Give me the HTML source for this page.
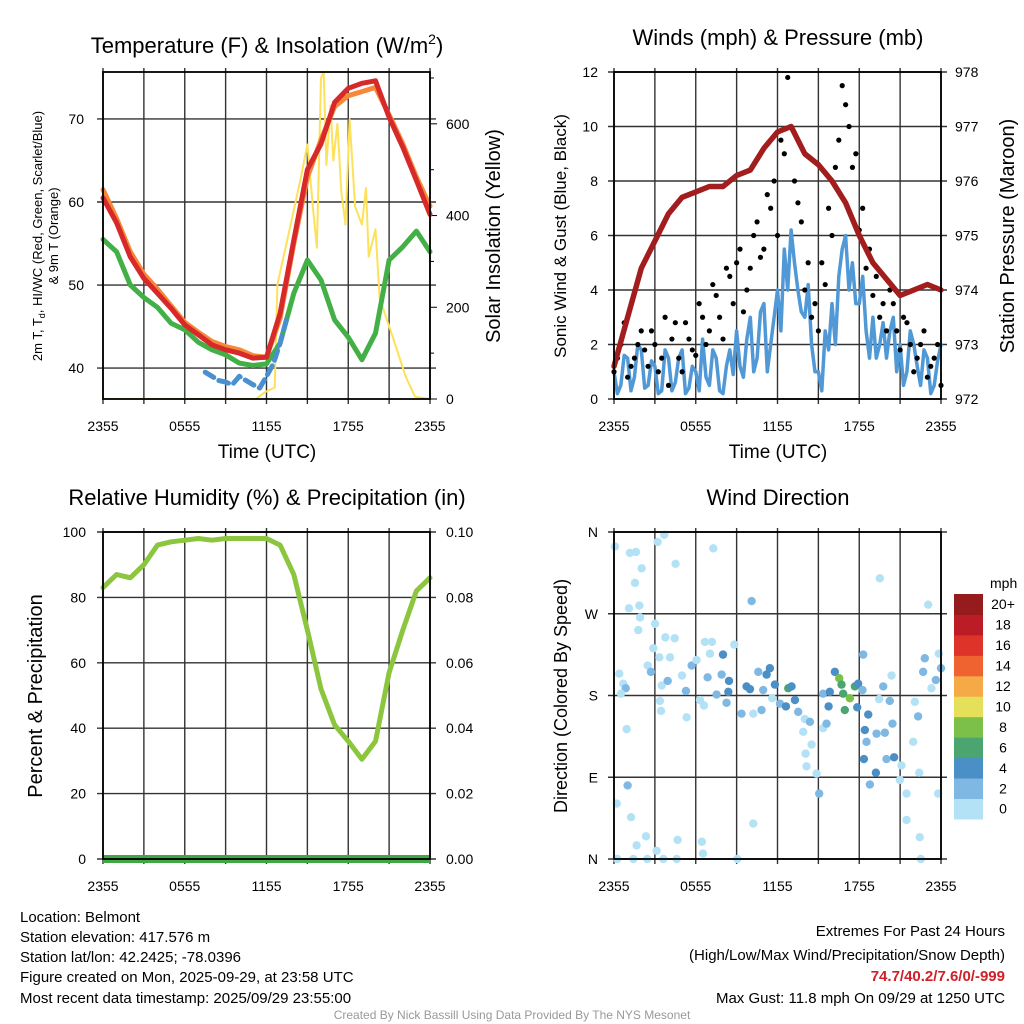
<!DOCTYPE html>
<html><head><meta charset="utf-8"><style>
html,body{margin:0;padding:0;background:#fff;}
svg{display:block;font-family:"Liberation Sans",Arial,sans-serif;}
</style></head><body>
<svg id="c" width="1024" height="1024" viewBox="0 0 1024 1024" xmlns="http://www.w3.org/2000/svg">
<g id="static">
<text x="267" y="53" font-size="22" text-anchor="middle">Temperature (F) &amp; Insolation (W/m<tspan dy="-9" font-size="14">2</tspan><tspan dy="9">)</tspan></text>
<text x="778" y="45" font-size="22" text-anchor="middle">Winds (mph) &amp; Pressure (mb)</text>
<text x="267" y="505" font-size="22" text-anchor="middle">Relative Humidity (%) &amp; Precipitation (in)</text>
<text x="778" y="505" font-size="22" text-anchor="middle">Wind Direction</text>
<text x="267" y="458" font-size="19" text-anchor="middle">Time (UTC)</text>
<text x="778" y="458" font-size="19" text-anchor="middle">Time (UTC)</text>
<text transform="translate(42,236) rotate(-90)" font-size="13" text-anchor="middle">2m T, T<tspan dy="3" font-size="9">d</tspan><tspan dy="-3">, HI/WC (Red, Green, Scarlet/Blue)</tspan></text>
<text transform="translate(58,236) rotate(-90)" font-size="13" text-anchor="middle">&amp; 9m T (Orange)</text>
<text transform="translate(500,236) rotate(-90)" font-size="20" text-anchor="middle">Solar Insolation (Yellow)</text>
<text transform="translate(566,236) rotate(-90)" font-size="17" text-anchor="middle">Sonic Wind &amp; Gust (Blue, Black)</text>
<text transform="translate(1014,236) rotate(-90)" font-size="20" text-anchor="middle">Station Pressure (Maroon)</text>
<text transform="translate(42,696) rotate(-90)" font-size="20" text-anchor="middle">Percent &amp; Precipitation</text>
<text transform="translate(567,696) rotate(-90)" font-size="18" text-anchor="middle">Direction (Colored By Speed)</text>
<g font-size="15">
<text x="20" y="922">Location: Belmont</text>
<text x="20" y="942">Station elevation: 417.576 m</text>
<text x="20" y="962">Station lat/lon: 42.2425; -78.0396</text>
<text x="20" y="982">Figure created on Mon, 2025-09-29, at 23:58 UTC</text>
<text x="20" y="1003">Most recent data timestamp: 2025/09/29 23:55:00</text>
</g>
<g font-size="15" text-anchor="end">
<text x="1005" y="936">Extremes For Past 24 Hours</text>
<text x="1005" y="960">(High/Low/Max Wind/Precipitation/Snow Depth)</text>
<text x="1005" y="981" fill="#d0202a" font-weight="bold">74.7/40.2/7.6/0/-999</text>
<text x="1005" y="1003">Max Gust: 11.8 mph On 09/29 at 1250 UTC</text>
</g>
<text x="512" y="1019" font-size="12" fill="#999" text-anchor="middle">Created By Nick Bassill Using Data Provided By The NYS Mesonet</text>
</g>
<g id="dyn"></g>
</svg>
<script>
// ---- Temperature panel data (hours since 2355 UTC) ----
const hours = [0,1,2,3,4,5,6,7,8,9,10,11,12,13,14,15,16,17,18,19,20,21,22,23,24];
const temp2m = [60.5,57.5,53.4,50.8,49,47.2,45.2,44,42.8,42.2,41.8,41.2,41.3,46.6,55.4,63.9,67,72,73.7,74.3,74.6,70.2,66.6,62.6,58.5];
const temp9m = [61.5,58,54,51.3,49.5,47.5,45.5,44.3,43.2,42.6,42.2,41.5,41.3,46,55,63,67.5,71.5,72.8,73.3,73.8,70.5,67,63,59.5];
const dewpoint = [55.5,54,50,48.5,47.3,45.4,44.6,43.1,42.2,41.6,40.6,40.3,40.5,43,49,53,50.6,45.8,43.7,41,44.2,53,54.6,56.5,54];
const windChillHours = [7.5,8,8.5,9,9.5,10,10.5,11,11.5,12,12.5,13,13.5];
const windChill = [39.5,39,38.5,38.3,38,39,38.5,38,37.6,39,40.5,43,46];
const solarHours = [0,11.2,11.9,12.6,12.8,13.4,14.5,15,15.4,15.7,16.0,16.2,16.4,16.7,16.9,17.2,17.5,17.8,18.1,18.5,19.0,19.3,19.5,20.0,20.3,21.1,22.2,22.9,24];
const solar = [0,0,15,25,250,330,480,555,420,330,700,713,510,640,520,600,450,380,610,420,380,460,310,370,220,150,50,5,0];
// ---- Wind / pressure data ----
const pressure = [972.6,973.5,974.4,974.9,975.4,975.7,975.8,975.9,975.9,976.1,976.2,976.6,976.9,977,976.5,976.3,976,975.6,975,974.5,974.2,973.9,974,974.1,974];
const windHours = [0,0.5,1,1.5,2,2.5,3,3.5,4,4.5,5,5.5,6,6.5,7,7.5,8,8.5,9,9.5,10,10.5,11,11.5,12,12.5,13,13.5,14,14.5,15,15.5,16,16.5,17,17.5,18,18.5,19,19.5,20,20.5,21,21.5,22,22.5,23,23.5,24];
const sonicHours = [0,0.25,0.5,0.75,1,1.25,1.5,1.75,2,2.25,2.5,2.75,3,3.25,3.5,3.75,4,4.25,4.5,4.75,5,5.25,5.5,5.75,6,6.25,6.5,6.75,7,7.25,7.5,7.75,8,8.25,8.5,8.75,9,9.25,9.5,9.75,10,10.25,10.5,10.75,11,11.25,11.5,11.75,12,12.25,12.5,12.75,13,13.25,13.5,13.75,14,14.25,14.5,14.75,15,15.25,15.5,15.75,16,16.25,16.5,16.75,17,17.25,17.5,17.75,18,18.25,18.5,18.75,19,19.25,19.5,19.75,20,20.25,20.5,20.75,21,21.25,21.5,21.75,22,22.25,22.5,22.75,23,23.25,23.5,23.75,24];
const sonicWind = [1.0,0.2,0.5,1.6,1.5,0.3,0.8,2.0,1.8,0.4,0.5,1.4,1.2,0.2,0.3,1.8,1.5,0.3,0.6,1.5,1.8,0.2,0.4,1.2,1.0,0.3,2.2,0.8,0.5,1.8,1.5,0.3,0.2,1.2,1.8,0.9,2.5,1.2,0.8,2.2,3.0,1.0,1.5,3.2,3.5,1.0,2.0,3.0,4.0,2.5,5.5,4.0,6.2,5.0,4.0,3.2,3.0,4.2,2.0,1.0,1.0,0.3,2.5,1.8,3.5,2.0,4.5,5.5,6.0,4.0,5.0,3.5,3.5,4.5,2.5,1.5,3.0,1.5,2.0,2.8,1.5,2.5,3.0,1.0,2.0,0.5,1.0,2.5,2.0,1.2,0.5,1.8,1.5,0.2,0.5,1.4,2.0];
const gustHours = [0.25,0.75,1.25,1.75,2.25,2.75,3.25,3.75,4.25,4.75,5.25,5.75,6.25,6.75,7.25,7.75,8.25,8.75,9.25,9.75,10.25,10.75,11.25,11.75,12.25,12.75,13.25,13.75,14.25,14.75,15.25,15.75,16.25,16.75,17.25,17.75,18.25,18.75,19.25,19.75,20.25,20.75,21.25,21.75,22.25,22.75,23.25,23.75];
const gusts = [1.5,2.8,1.2,2.0,1.8,2.5,1.0,3.0,2.2,1.5,2.8,1.8,3.5,2.0,4.2,3.0,4.8,3.5,5.5,4.0,6.0,5.2,7.5,8.0,9.5,11.8,8.0,6.5,5.0,3.5,5.0,7.0,8.5,11.5,10.0,9.0,7.0,5.5,4.5,3.5,4.0,2.5,3.0,2.0,1.5,2.5,1.2,2.0];
const gusts2 = [1.0,2.0,0.8,1.5,2.5,1.2,2.0,1.5,0.5,2.8,1.0,2.2,1.6,3.0,2.5,3.8,2.2,4.5,5.0,3.2,4.8,6.5,5.5,7.0,6.0,9.0,10.0,7.2,4.0,3.0,2.5,4.2,6.0,9.5,10.8,8.5,6.2,4.8,3.8,3.0,2.5,3.5,1.8,2.8,1.0,2.0,0.8,1.5,0.5];
// ---- Humidity data ----
const humidity = [83,87,86,90,96,97,97.5,98,97.5,98,98,98,98,96,87,70,52,41,36,30.5,36,57,70,82,86];
const precip = [0,0,0,0,0,0,0,0,0,0,0,0,0,0,0,0,0,0,0,0,0,0,0,0,0];
// ---- Wind direction data ----
const dirHours = [0.07,1.17,1.61,2.03,1.54,1.10,1.86,1.91,1.78,3.20,3.69,4.52,7.29,3.01,3.77,4.45,2.89,3.33,0.39,0.68,0.86,0.51,0.93,1.00,0.20,1.25,2.35,1.66,3.13,0.24,1.42,2.44,3.62,4.67,4.60,6.45,6.53,9.05,10.22,10.10,2.47,2.71,4.11,3.50,3.94,3.37,3.45,4.99,5.33,5.28,5.70,6.06,6.67,7.19,7.04,6.87,6.31,6.60,7.53,8.00,7.90,8.26,8.44,8.39,8.83,9.36,9.73,9.98,10.22,10.59,10.83,10.95,11.20,11.44,11.81,11.61,12.18,12.62,12.79,13.03,13.28,13.52,14.01,14.38,13.89,14.50,14.06,14.13,14.87,15.06,15.35,15.60,15.35,15.75,15.84,16.21,16.53,16.70,16.82,16.94,17.31,17.68,17.92,17.85,18.29,18.24,18.41,18.53,18.66,18.34,19.22,18.78,19.27,19.46,19.76,19.88,20.00,20.24,20.44,20.56,20.37,19.51,20.98,21.47,21.47,21.96,22.08,22.32,22.44,22.52,22.40,22.81,23.06,23.30,23.62,23.84,24.0,23.79,22.69,21.10];
const dirDeg = [344,337,338,320,304,276,279,266,252,349,357,325,342,259,244,243,232,222,204,193,188,182,143,81,61,46,25,15,9,0,0,0,0,21,0,19,6,0,39,284,213,206,222,191,196,174,163,202,156,185,213,219,239,239,226,200,175,169,181,225,203,172,196,184,236,160,190,187,160,206,164,186,203,210,192,177,171,168,188,190,175,162,154,151,140,126,116,102,94,72,144,149,182,168,184,206,199,192,182,164,177,190,193,167,225,186,142,129,159,110,95,82,138,176,190,139,110,174,149,112,202,309,87,72,43,129,173,157,24,0,95,221,280,188,197,226,210,72,206,103];
const dirSpeed = [1,1,1,1,1,1,1,1,1,1,1,1,1,1,1,1,1,1,1,1,3,1,1,3,1,1,1,1,1,1,1,1,1,1,1,1,1,1,1,3,1,3,1,1,3,1,1,1,1,3,3,1,1,1,1,3,1,1,3,5,3,3,5,5,1,3,5,5,1,3,3,3,5,5,5,1,3,5,7,5,5,3,1,3,1,1,1,1,1,3,1,3,3,5,5,5,8.5,7,7,7,8.5,7,5,5,3,3,5,3,5,5,5,3,3,1,3,3,3,3,3,5,1,1,1,1,1,1,1,3,1,1,1,3,1,1,3,1,3,1,3,1];
const speedLabels = ["0","2","4","6","8","10","12","14","16","18","20+"];
const speedColors = ["#b3e2f7","#7fb9e3","#4a8fc6","#4ba571","#7cc04a","#e5e05a","#f5a947","#ee6330","#dd3328","#bb1c25","#951b1c"];

const NS="http://www.w3.org/2000/svg";
const dyn=document.getElementById('dyn');
function mk(tag,attrs,parent){const e=document.createElementNS(NS,tag);for(const k in attrs)e.setAttribute(k,attrs[k]);(parent||dyn).appendChild(e);return e;}

const P={tl:{x0:103,x1:430,y0:72,y1:399},tr:{x0:614,x1:941,y0:72,y1:399},bl:{x0:103,x1:430,y0:532,y1:859},br:{x0:614,x1:941,y0:532,y1:859}};
function xs(p){return h=>p.x0+h*(p.x1-p.x0)/24;}
function lin(p,lo,hi){return v=>p.y1-(v-lo)*(p.y1-p.y0)/(hi-lo);}
const xTL=xs(P.tl),xTR=xs(P.tr),xBL=xs(P.bl),xBR=xs(P.br);
const yT=lin(P.tl,36.27,75.66), yS=lin(P.tl,0,713);
const yW=lin(P.tr,0,12), yP=lin(P.tr,972,978);
const yH=lin(P.bl,0,100), yPr=lin(P.bl,0,0.1);
const yD=lin(P.br,0,360);
const xLabels=["2355","0555","1155","1755","2355"];

function frame(p,name,hTicks){
  const g=mk('g',{});
  
  
  const X=xs(p);
  for(let i=0;i<=8;i++){mk('line',{x1:X(i*3),x2:X(i*3),y1:p.y0-4,y2:p.y1+5,stroke:'#333','stroke-width':1.4},g);}
  hTicks.forEach(y=>mk('line',{x1:p.x0-6,x2:p.x1+6,y1:y,y2:y,stroke:'#333','stroke-width':1.4},g));
  xLabels.forEach((t,i)=>{const e=mk('text',{x:X(i*6),y:p.y1+32,'font-size':14,'text-anchor':'middle'},g);e.textContent=t;});
  return g;
}
function outline(p,name){const r=mk('rect',{x:p.x0,y:p.y0,width:p.x1-p.x0,height:p.y1-p.y0,fill:'none',stroke:'#000','stroke-width':1.8});
  
  }
function path(xsArr,ysArr,X,Y,attrs,name){
  let d='';xsArr.forEach((h,i)=>{d+=(i?'L':'M')+X(h).toFixed(1)+','+Y(ysArr[i]).toFixed(1);});
  const e=mk('path',Object.assign({d:d,fill:'none','stroke-linejoin':'round','stroke-linecap':'round'},attrs));
  
  
  return e;
}
function labels(vals,fmt,X,Y,anchor,name){
  const g=mk('g',{'font-size':14,'text-anchor':anchor});
  
  
  vals.forEach(v=>{const e=mk('text',{x:X,y:Y(v)+5},g);e.textContent=fmt(v);});
}

// ---- TL ----
const tlL=[40,50,60,70], tlR=[0,200,400,600];
frame(P.tl,'temperature',tlL.map(yT));
labels(tlL,v=>v,84,yT,'end','temperature-y-ticks');
labels(tlR,v=>v,446,yS,'start','solar-y-ticks');
for(let v=0;v<=700;v+=100){mk('line',{x1:P.tl.x1,x2:P.tl.x1+(v%200?4:7),y1:yS(v),y2:yS(v),stroke:'#000'});}
const cp=mk('clipPath',{id:'cTL'});mk('rect',{x:P.tl.x0,y:P.tl.y0,width:327,height:327},cp);
path(solarHours,solar,xTL,yS,{stroke:'#fde15a','stroke-width':2,'clip-path':'url(#cTL)'},'solar-line');
path(hours,dewpoint,xTL,yT,{stroke:'#43b047','stroke-width':5},'dewpoint-line');
path(windChillHours,windChill,xTL,yT,{stroke:'#4a90d0','stroke-width':5,'stroke-dasharray':'10 6'},'windchill-line');
path(hours,temp9m,xTL,yT,{stroke:'#f6883a','stroke-width':5},'temp-9m-line');
path(hours,temp2m,xTL,yT,{stroke:'#d7282a','stroke-width':5},'temp-2m-line');
outline(P.tl,'temperature');

// ---- TR ----
const trL=[0,2,4,6,8,10,12], trR=[972,973,974,975,976,977,978];
frame(P.tr,'winds',trL.map(yW));
labels(trL,v=>v,598,yW,'end','wind-y-ticks');
labels(trR,v=>v,955,yP,'start','pressure-y-ticks');
path(sonicHours,sonicWind,xTR,yW,{stroke:'#5199d6','stroke-width':3.5},'sonic-wind-line');
gustHours.forEach((h,i)=>{const c=mk('circle',{cx:xTR(h),cy:yW(gusts[i]),r:2.6,fill:'#000'});
  
  });
windHours.forEach((h,i)=>{const c=mk('circle',{cx:xTR(h),cy:yW(gusts2[i]),r:2.6,fill:'#000'});
  
  });
path(hours,pressure,xTR,yP,{stroke:'#a21e1e','stroke-width':5.5},'pressure-line');
outline(P.tr,'winds');

// ---- BL ----
const blL=[0,20,40,60,80,100], blR=[0,0.02,0.04,0.06,0.08,0.1];
frame(P.bl,'humidity',blL.map(yH));
labels(blL,v=>v,86,yH,'end','humidity-y-ticks');
labels(blR,v=>v.toFixed(2),446,yPr,'start','precip-y-ticks');
path(hours,humidity,xBL,yH,{stroke:'#8cc63f','stroke-width':5},'humidity-line');
path(hours,precip,xBL,yPr,{stroke:'#3fa744','stroke-width':8,'stroke-linecap':'butt'},'precip-line');
outline(P.bl,'humidity');

// ---- BR ----
const brTicks=[0,90,180,270,360], brNames=["N","E","S","W","N"];
frame(P.br,'direction',brTicks.map(yD));
{const g=mk('g',{'font-size':14,'text-anchor':'end'});
 
 
 brTicks.forEach((v,i)=>{const e=mk('text',{x:598,y:yD(v)+5},g);e.textContent=brNames[i];});}
function spColor(s){return speedColors[Math.min(10,Math.floor(s/2))];}
dirHours.forEach((h,i)=>{const c=mk('circle',{cx:xBR(h),cy:yD(dirDeg[i]),r:4.2,fill:spColor(dirSpeed[i])});
  
  });
outline(P.br,'direction');
{const g=mk('g',{});
 
 
 const t=mk('text',{x:990,y:588,'font-size':14},g);t.textContent='mph';
 const bh=20.45;
 speedLabels.forEach((lab,i)=>{const y=594+(10-i)*bh;
   const r=mk('rect',{x:954,y:y,width:29,height:bh+0.5,fill:speedColors[i]},g);
   
   
   const e=mk('text',{x:1003,y:y+bh/2+5,'font-size':14,'text-anchor':'middle'},g);e.textContent=lab;});}
</script>
</body></html>
